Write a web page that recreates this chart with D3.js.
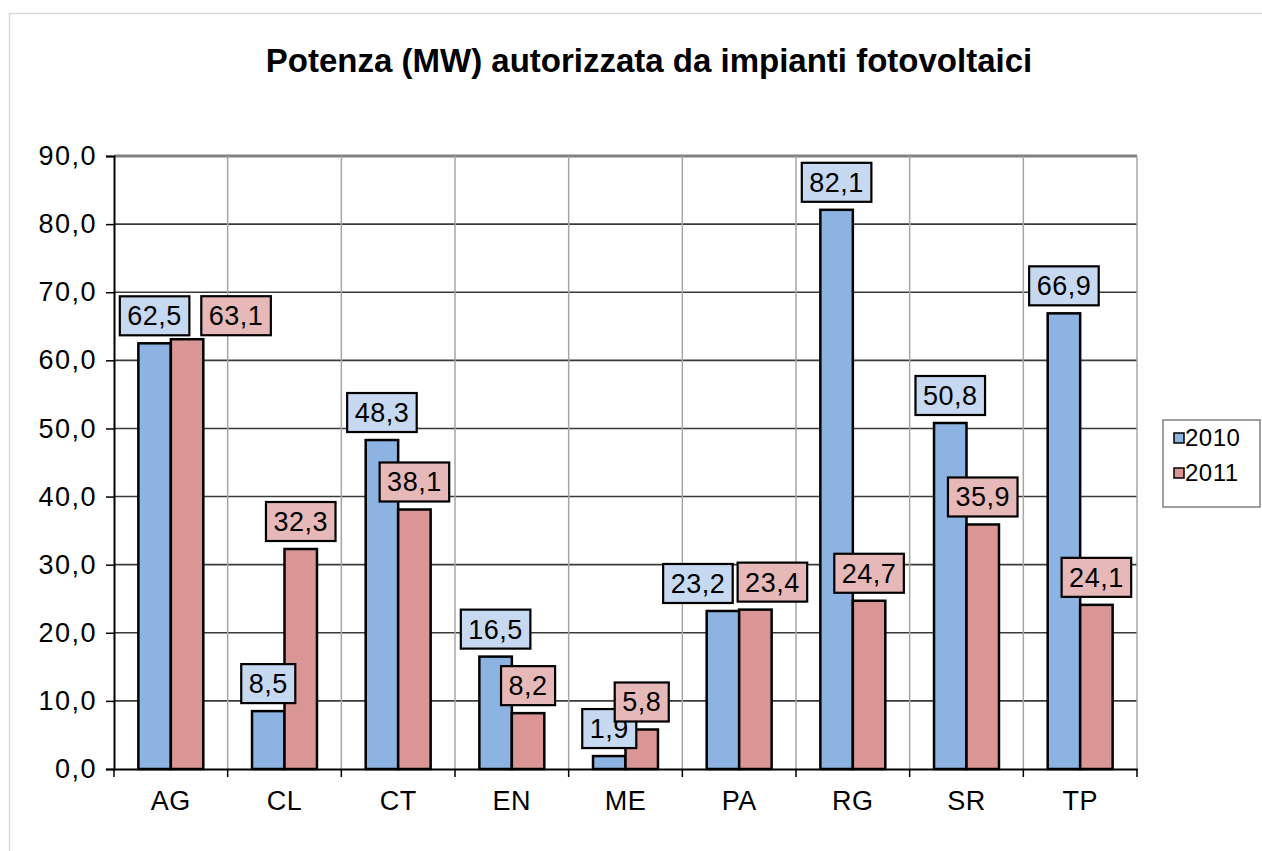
<!DOCTYPE html>
<html><head><meta charset="utf-8">
<script src="https://cdn.jsdelivr.net/npm/d3@7"></script>
<style>
html,body{margin:0;padding:0;background:#fff;}
svg{display:block;font-family:"Liberation Sans",Arial,sans-serif;}
</style></head>
<body>
<svg id="chart" width="1262" height="851"></svg>
<script>
const title = "Potenza (MW) autorizzata da impianti fotovoltaici";
const categories = ["AG","CL","CT","EN","ME","PA","RG","SR","TP"];
const seriesNames = ["2010","2011"];
const values2010 = [62.5, 8.5, 48.3, 16.5, 1.9, 23.2, 82.1, 50.8, 66.9];
const values2011 = [63.1, 32.3, 38.1, 8.2, 5.8, 23.4, 24.7, 35.9, 24.1];
const yTicks = [0,10,20,30,40,50,60,70,80,90];
// manual label nudges (layout only)
const labelDx2010 = [0,0,0,0,0,-25,0,0,0];
const labelDx2011 = [49,0,0,0,0,17,0,0,0];
const labelDy2011 = [4,0,0,0,0,0,0,0,0];

const barFill = {"2010":"#8db3e2","2011":"#d99694"};
const boxFill = {"2010":"#c6d9f1","2011":"#e6b9b8"};
const fmt = v => d3.format(".1f")(v).replace(".", ",");

const svg = d3.select("#chart");
// outer chart border
svg.append("rect").attr("x",9.5).attr("y",13.5).attr("width",1300).attr("height",900)
  .attr("fill","#fff").attr("stroke","#d9d9d9").attr("stroke-width",1.5);

const L=114, R=1137, T=156, B=769;
const x0 = d3.scaleBand().domain(categories).range([L,R]).paddingInner(0).paddingOuter(0);
const x1 = d3.scaleBand().domain(seriesNames).range([0,x0.bandwidth()]).paddingInner(0).paddingOuter(0.75);
const y = d3.scaleLinear().domain([0,90]).range([B,T]);

// title
svg.append("text").attr("x",649).attr("y",72).attr("text-anchor","middle")
  .attr("font-weight","bold").attr("font-size",33).attr("fill","#000").text(title);

// horizontal grid
svg.append("g").selectAll("line").data(yTicks.filter(d=>d>0)).join("line")
  .attr("x1",L).attr("x2",R).attr("y1",d=>y(d)).attr("y2",d=>y(d))
  .attr("stroke",d=>d===90?"#808080":"#3a3a3a").attr("stroke-width",d=>d===90?3:1.6);
// vertical grid
svg.append("g").selectAll("line").data(d3.range(1,categories.length+1)).join("line")
  .attr("x1",i=>L+i*x0.step()).attr("x2",i=>L+i*x0.step())
  .attr("y1",T).attr("y2",B).attr("stroke","#a6a6a6").attr("stroke-width",1.5);

// y axis
const yAxis = d3.axisLeft(y).tickValues(yTicks).tickSize(8).tickFormat(fmt);
const ya = svg.append("g").attr("transform",`translate(${L},0)`).call(yAxis);
ya.select(".domain").attr("stroke","#000").attr("stroke-width",2);
ya.selectAll(".tick line").attr("stroke","#000").attr("stroke-width",1.5);
ya.selectAll(".tick text").attr("font-size",27).attr("fill","#000").attr("x",-17)
  .attr("letter-spacing","1.5px")
  .attr("font-family","'Liberation Sans',Arial,sans-serif");

// x axis
const xAxis = d3.axisBottom(x0).tickSize(0).tickSizeOuter(0);
const xa = svg.append("g").attr("transform",`translate(0,${B})`).call(xAxis);
xa.select(".domain").attr("stroke","#000").attr("stroke-width",2);
xa.selectAll(".tick text").attr("font-size",27).attr("fill","#000").attr("dy",0).attr("y",41)
  .attr("letter-spacing","0.5px")
  .attr("font-family","'Liberation Sans',Arial,sans-serif");
// x ticks at category boundaries
svg.append("g").selectAll("line").data(d3.range(categories.length+1)).join("line")
  .attr("x1",i=>L+i*x0.step()).attr("x2",i=>L+i*x0.step()).attr("y1",B).attr("y2",B+8)
  .attr("stroke","#000").attr("stroke-width",1.5);

// bars
const series = [
  {name:"2010", values:values2010, dx:labelDx2010, dy:categories.map(()=>0)},
  {name:"2011", values:values2011, dx:labelDx2011, dy:labelDy2011}
];
series.forEach(s=>{
  svg.append("g").selectAll("rect").data(s.values).join("rect")
    .attr("x",(d,i)=>x0(categories[i])+x1(s.name))
    .attr("y",d=>y(d)).attr("width",x1.bandwidth()).attr("height",d=>B-y(d))
    .attr("fill",barFill[s.name]).attr("stroke","#000").attr("stroke-width",2.5);
});

// labels
series.forEach(s=>{
  const g = svg.append("g");
  s.values.forEach((v,i)=>{
    const cx = x0(categories[i])+x1(s.name)+x1.bandwidth()/2 + s.dx[i];
    const bottom = y(v) - 8 + s.dy[i];
    const lg = g.append("g");
    const rect = lg.append("rect");
    const t = lg.append("text").attr("x",cx).attr("y",bottom-10).attr("text-anchor","middle")
      .attr("font-size",27).attr("letter-spacing","0.5px").attr("fill","#000").text(fmt(v));
    const w = t.node().getComputedTextLength()+15;
    rect.attr("x",cx-w/2).attr("y",bottom-39).attr("width",w).attr("height",39)
      .attr("fill",boxFill[s.name]).attr("stroke","#000").attr("stroke-width",2.2);
  });
});

// legend
const lg = svg.append("g");
lg.append("rect").attr("x",1163).attr("y",420).attr("width",97).attr("height",87)
  .attr("fill","#fff").attr("stroke","#808080").attr("stroke-width",1.5);
seriesNames.forEach((n,i)=>{
  const cy = 438 + i*35;
  lg.append("rect").attr("x",1174).attr("y",cy-5).attr("width",10).attr("height",10)
    .attr("fill",barFill[n]).attr("stroke","#000").attr("stroke-width",1.5);
  lg.append("text").attr("x",1185).attr("y",cy+8).attr("font-size",24)
    .attr("letter-spacing","0.5px").attr("fill","#000").text(n);
});
</script>
</body></html>
